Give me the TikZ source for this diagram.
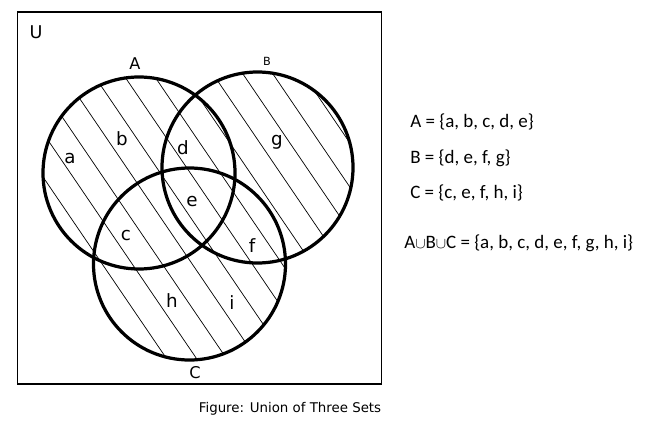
\documentclass[tikz,border=0pt]{standalone}
\usepackage{fontspec}
\setmainfont{DejaVu Sans}
\newfontfamily\eqfont{Carlito}
\usetikzlibrary{calc}

\tikzset{
  setcirc/.style={line width=2.3pt},
  hatch/.style={line width=0.5pt},
  lbl/.style={font=\fontsize{13}{13}\selectfont, inner sep=0pt},
  eqn/.style={font=\eqfont\fontsize{13.5}{14}\selectfont, anchor=west, inner sep=0pt}
}

\begin{document}
\begin{tikzpicture}[x=0.025cm, y=-0.025cm]
			\useasboundingbox (0,0) rectangle (650,439);
			
			% Centres of the three sets
			\coordinate (cA) at (139,173);
			\coordinate (cB) at (257.5,167.5);
			\coordinate (cC) at (189.5,264);
			
			% Universe
			\draw[line width=1.2pt] (17.5,12) rectangle (381.5,384);
			\node[font=\fontsize{12.5}{13}\selectfont] (U) at (36,32) {U};
			
			% Hatching of the union
			\begin{scope}
				\clip (cA) circle (96) (cB) circle (95.5) (cC) circle (96);
				\foreach \k in {-14,...,5}
				\draw[hatch] ($(245,77)+(\k*30,0)+(-200,-294)$) -- ++(400,588);
			\end{scope}
			
			% Circles
			\draw[setcirc] (cA) circle (96);
			\draw[setcirc] (cB) circle (95.5);
			\draw[setcirc] (cC) circle (96);
			
			\node[font=\fontsize{11.5}{12}\selectfont] (labA) at (135,64) {A};
			\node[font=\fontsize{8}{9}\selectfont] (labB) at (267,61) {B};
			\node[font=\fontsize{11.5}{12}\selectfont] (labC) at (195,373) {C};
			
			% Elements
			\node[lbl] (ea) at (70,159) {a};
			\node[lbl] (eb) at (122,139) {b};
			\node[lbl] (ec) at (126,236) {c};
			\node[lbl] (ed) at (183,148) {d};
			\node[lbl] (ee) at (192,202) {e};
			\node[lbl] (ef) at (252,246) {f};
			\node[lbl] (eg) at (277,142) {g};
			\node[lbl] (eh) at (172,301) {h};
			\node[lbl] (ei) at (232,303) {i};
			
			% Set definitions
			\node[eqn] (defA) at (410,122) {A = \{a, b, c, d, e\}};
			\node[eqn] (defB) at (410,158) {B = \{d, e, f, g\}};
			\node[eqn] (defC) at (410,193) {C = \{c, e, f, h, i\}};
			\node[eqn] (union) at (404,243) {A{\fontsize{11}{11}\selectfont$\cup$}B{\fontsize{11}{11}\selectfont$\cup$}C = \{a, b, c, d, e, f, g, h, i\}};
			
			% Caption
			\node[font=\fontsize{9.5}{10}\selectfont] (cap) at (290,409) {Figure: Union of Three Sets};
			
		\end{tikzpicture}
\end{document}
